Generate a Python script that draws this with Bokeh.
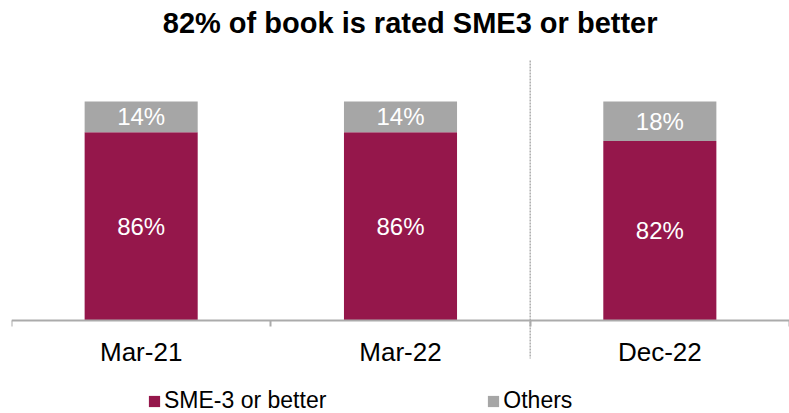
from bokeh.plotting import figure
from bokeh.models import ColumnDataSource, FixedTicker, Range1d, Legend, LegendItem
from bokeh.core.properties import value
from bokeh.embed import file_html
from bokeh.resources import INLINE

categories = ["Mar-21", "Mar-22", "Dec-22"]
sme3_or_better = [86, 86, 82]
others = [14, 14, 18]

MAROON = "#95174B"
GREY = "#A6A6A6"
FONT = "Liberation Sans"

xs = [i + 0.5 for i in range(len(categories))]
src = ColumnDataSource(dict(
    x=xs,
    sme=sme3_or_better,
    oth=others,
    sme_mid=[v / 2 for v in sme3_or_better],
    oth_mid=[s + o / 2 for s, o in zip(sme3_or_better, others)],
    sme_lbl=[f"{v}%" for v in sme3_or_better],
    oth_lbl=[f"{v}%" for v in others],
))

p = figure(width=789, height=413, output_backend="svg", toolbar_location=None,
           x_range=Range1d(0, 3), y_range=Range1d(-42.47, 126.03),
           min_border_left=11, min_border_right=0, min_border_bottom=0, min_border_top=44,
           title="82% of book is rated SME3 or better")
p.outline_line_color = None
p.grid.visible = False
p.yaxis.visible = False

p.title.text_font = FONT
p.title.text_font_size = "29px"
p.title.text_font_style = "bold"
p.title.text_color = "#000000"
p.title.align = "right"
p.title.offset = 132
p.title.vertical_align = "top"
p.title.standoff = 8

r = p.vbar_stack(["sme", "oth"], x="x", width=0.436, color=[MAROON, GREY],
                 line_color=None, source=src)

p.text(x="x", y="sme_mid", text="sme_lbl", source=src, text_color="white",
       text_font=value(FONT), text_font_size="24px", text_align="center",
       text_baseline="middle")
p.text(x="x", y="oth_mid", text="oth_lbl", source=src, text_color="white",
       text_font=value(FONT), text_font_size="24px", text_align="center",
       text_baseline="middle")

# separator
p.segment(x0=[2], y0=[118.7], x1=[2], y1=[-17.4], line_color="#9A9A9A",
          line_width=1.2, line_dash="2 1")

ax = p.xaxis[0]
ax.fixed_location = 0
ax.ticker = FixedTicker(ticks=xs, minor_ticks=[0, 1, 2, 3])
ax.major_label_overrides = {x: c for x, c in zip(xs, categories)}
ax.major_tick_line_color = None
ax.major_tick_out = 0
ax.major_tick_in = 0
ax.minor_tick_out = 6
ax.minor_tick_in = 0
ax.minor_tick_line_color = "#ABABAB"
ax.minor_tick_line_width = 2
ax.axis_line_color = "#ABABAB"
ax.axis_line_width = 2
ax.major_label_text_font = FONT
ax.major_label_text_font_size = "26px"
ax.major_label_text_color = "#000000"
ax.major_label_standoff = 11

legend = Legend(items=[LegendItem(label="SME-3 or better", renderers=[r[0]]),
                       LegendItem(label="Others", renderers=[r[1]])],
                location=(136, -1), orientation="horizontal",
                border_line_color=None, background_fill_alpha=0,
                padding=0, margin=0, spacing=160, label_standoff=3,
                glyph_width=14, glyph_height=14,
                label_text_font=FONT, label_text_font_size="23px",
                label_text_color="#000000")
p.add_layout(legend, "center")

open("out.html", "w").write(file_html(p, INLINE))
